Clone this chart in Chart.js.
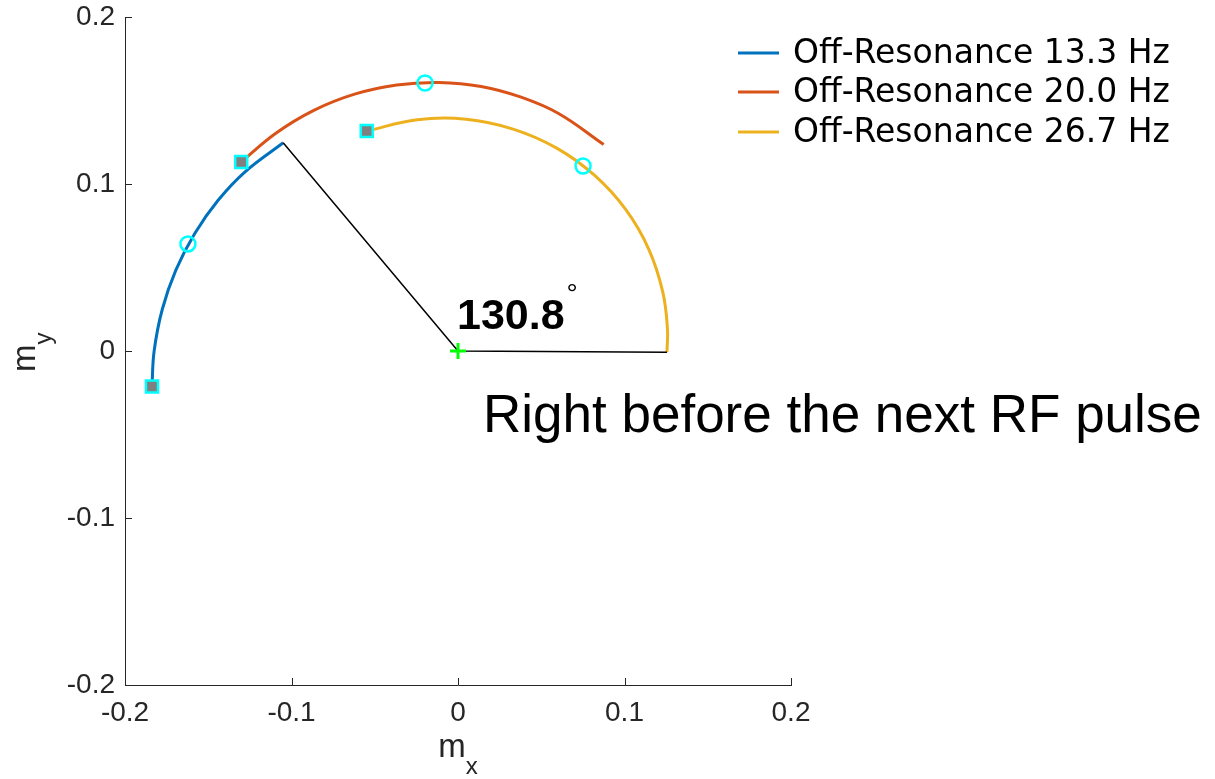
<!DOCTYPE html>
<html>
<head>
<meta charset="utf-8">
<script src="https://cdn.jsdelivr.net/npm/chart.js@4.4.0/dist/chart.umd.min.js"></script>
<style>
  body { margin: 0; background: #fff; }
  #wrap { width: 1215px; height: 779px; }
</style>
</head>
<body>
<div id="wrap"><canvas id="c"></canvas></div>
<script>
// trajectories (mx, my)
var blueX = [-0.1838, -0.1825, -0.1776, -0.1694, -0.1581, -0.1442, -0.1279, -0.1050];
var blueY = [-0.0213, 0.0000, 0.0250, 0.0486, 0.0704, 0.0901, 0.1073, 0.1247];
var redX = [-0.1302, -0.1094, -0.0866, -0.0621, -0.0368, -0.0112, 0.0139, 0.0379, 0.0604, 0.0875];
var redY = [0.1132, 0.1304, 0.1441, 0.1538, 0.1593, 0.1608, 0.1584, 0.1520, 0.1422, 0.1236];
var yellowX = [-0.0548, -0.0244, 0.0048, 0.0331, 0.0593, 0.0821, 0.1008, 0.1146, 0.1230, 0.1258, 0.1255];
var yellowY = [0.1317, 0.1385, 0.1388, 0.1329, 0.1215, 0.1051, 0.0846, 0.0609, 0.0353, 0.0132, -0.0007];
var angleX = [-0.1050, 0, 0.1255];
var angleY = [0.1247, 0, -0.0007];
var squareX = [-0.1838, -0.1302, -0.0548];
var squareY = [-0.0213, 0.1132, 0.1317];
var circleX = [-0.1622, -0.0198, 0.0751];
var circleY = [0.0641, 0.1605, 0.1108];
var seriesNames = ['Off-Resonance 13.3 Hz', 'Off-Resonance 20.0 Hz', 'Off-Resonance 26.7 Hz'];
var xTickLabels = ['-0.2', '-0.1', '0', '0.1', '0.2'];
var yTickLabels = ['-0.2', '-0.1', '0', '0.1', '0.2'];
var angleText = '130.8';
var noteText = 'Right before the next RF pulse';

function pts(xs, ys) {
  return xs.map(function (x, i) { return { x: x, y: ys[i] }; });
}

var tickFont = 'Liberation Sans, Arial, Helvetica, sans-serif';

var extras = {
  id: 'extras',
  afterDraw: function (chart) {
    var ctx = chart.ctx;
    var xs = chart.scales.x, ys = chart.scales.y;
    var a = chart.chartArea;
    ctx.save();
    // inward ticks
    ctx.strokeStyle = '#262626';
    ctx.lineWidth = 1;
    ctx.beginPath();
    xs.ticks.forEach(function (t) {
      var px = Math.round(xs.getPixelForValue(t.value)) + 0.5;
      ctx.moveTo(px, a.bottom); ctx.lineTo(px, a.bottom - 7);
    });
    ys.ticks.forEach(function (t) {
      var py = Math.round(ys.getPixelForValue(t.value)) + 0.5;
      ctx.moveTo(a.left, py); ctx.lineTo(a.left + 7, py);
    });
    ctx.stroke();

    // axis titles with subscripts
    ctx.fillStyle = '#262626';
    ctx.textBaseline = 'alphabetic';
    ctx.textAlign = 'left';
    ctx.font = '33px ' + tickFont;
    var cx = (a.left + a.right) / 2;
    var mw = ctx.measureText('m').width;
    ctx.fillText('m', cx - mw / 2 - 6, 757);
    ctx.font = '24px ' + tickFont;
    ctx.fillText('x', cx - mw / 2 - 6 + mw, 774);

    ctx.save();
    ctx.translate(35, 372);
    ctx.rotate(-Math.PI / 2);
    ctx.font = '33px ' + tickFont;
    ctx.fillText('m', 0, 0);
    ctx.font = '24px ' + tickFont;
    ctx.fillText('y', mw, 16);
    ctx.restore();

    // angle annotation
    ctx.fillStyle = '#000';
    ctx.font = 'bold 43px ' + tickFont;
    var ox = xs.getPixelForValue(0), oy = ys.getPixelForValue(0);
    ctx.fillText(angleText, ox - 1, oy - 22);
    var aw = ctx.measureText(angleText).width;
    ctx.font = '28px ' + tickFont;
    ctx.fillText('\u00B0', ox - 1 + aw + 2, oy - 48);

    ctx.font = '53px ' + tickFont;
    ctx.fillText(noteText, 483, 432);

    // legend
    var colors = ['#0072BD', '#D95319', '#EDB120'];
    var rows = [53, 92, 132];
    ctx.font = '33px "DejaVu Sans", sans-serif';
    ctx.textBaseline = 'middle';
    for (var i = 0; i < 3; i++) {
      ctx.strokeStyle = colors[i];
      ctx.lineWidth = 3;
      ctx.beginPath();
      ctx.moveTo(738, rows[i]); ctx.lineTo(779, rows[i]);
      ctx.stroke();
      ctx.fillStyle = '#000';
      ctx.fillText(seriesNames[i], 793, rows[i] + 1);
    }
    ctx.restore();
  }
};

var ctx = document.getElementById('c').getContext('2d');
new Chart(ctx, {
  type: 'scatter',
  data: {
    datasets: [
      { label: 'rf', data: pts(squareX, squareY), pointStyle: 'rect', pointRadius: 8.5,
        pointBackgroundColor: '#808080', pointBorderColor: '#00FFFF', pointBorderWidth: 2.5, order: 0 },
      { label: 'mid', data: pts(circleX, circleY), pointStyle: 'circle', pointRadius: 7.5,
        pointBackgroundColor: 'rgba(0,0,0,0)', pointBorderColor: '#00FFFF', pointBorderWidth: 2.5, order: 0 },
      { label: 'origin', data: [{ x: 0, y: 0 }], pointStyle: 'cross', pointRadius: 8,
        pointBorderColor: '#00FF00', pointBorderWidth: 3, order: 0 },
      { label: seriesNames[0], data: pts(blueX, blueY), showLine: true, borderColor: '#0072BD',
        borderWidth: 3, pointRadius: 0, tension: 0.4, order: 2 },
      { label: seriesNames[1], data: pts(redX, redY), showLine: true, borderColor: '#D95319',
        borderWidth: 3, pointRadius: 0, tension: 0.4, order: 2 },
      { label: seriesNames[2], data: pts(yellowX, yellowY), showLine: true, borderColor: '#EDB120',
        borderWidth: 3, pointRadius: 0, tension: 0.4, order: 2 },
      { label: 'angle', data: pts(angleX, angleY), showLine: true, borderColor: '#000',
        borderWidth: 1.5, pointRadius: 0, tension: 0, order: 1 }
    ]
  },
  options: {
    responsive: true,
    maintainAspectRatio: false,
    animation: false,
    events: [],
    layout: { padding: { left: 0, top: 17, right: 424, bottom: 0 } },
    plugins: { legend: { display: false }, tooltip: { enabled: false } },
    scales: {
      x: {
        type: 'linear', min: -0.2, max: 0.2,
        grid: { display: false, drawTicks: false },
        border: { display: true, color: '#262626', width: 1 },
        ticks: { stepSize: 0.1, padding: 11, color: '#262626', font: { family: tickFont, size: 28 },
          maxRotation: 0, callback: function (v, i) { return xTickLabels[i]; } },
        afterFit: function (s) { s.height = 94; s.paddingLeft = 0; s.paddingRight = 0; }
      },
      y: {
        type: 'linear', min: -0.2, max: 0.2,
        grid: { display: false, drawTicks: false },
        border: { display: true, color: '#262626', width: 1 },
        ticks: { stepSize: 0.1, padding: 10, color: '#262626', font: { family: tickFont, size: 28 },
          callback: function (v, i) { return yTickLabels[i]; } },
        afterFit: function (s) { s.width = 125; s.paddingTop = 0; s.paddingBottom = 0; }
      }
    }
  },
  plugins: [extras]
});
</script>
</body>
</html>
